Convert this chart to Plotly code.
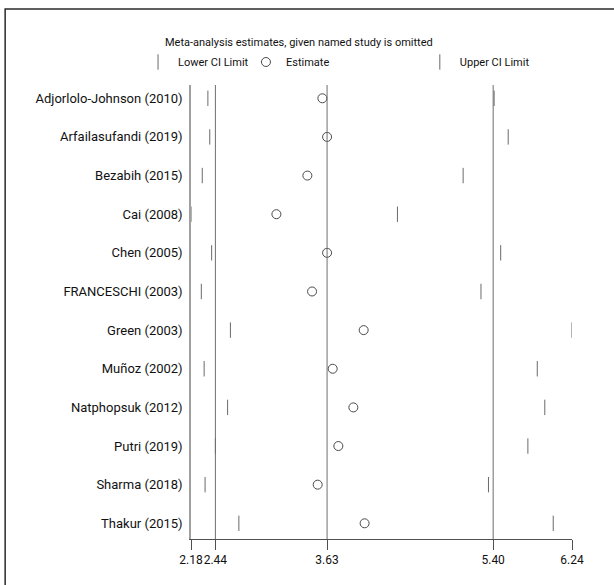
import plotly.graph_objects as go

studies = ["Adjorlolo-Johnson (2010)", "Arfailasufandi (2019)", "Bezabih (2015)", "Cai (2008)",
           "Chen (2005)", "FRANCESCHI (2003)", "Green (2003)", "Muñoz (2002)",
           "Natphopsuk (2012)", "Putri (2019)", "Sharma (2018)", "Thakur (2015)"]
lower = [2.36, 2.38, 2.30, 2.18, 2.40, 2.29, 2.60, 2.32, 2.57, 2.44, 2.33, 2.69]
estimate = [3.58, 3.63, 3.42, 3.09, 3.63, 3.47, 4.02, 3.69, 3.91, 3.75, 3.53, 4.03]
upper = [5.41, 5.56, 5.08, 4.38, 5.48, 5.27, 6.24, 5.87, 5.95, 5.77, 5.35, 6.04]
overall = [2.44, 3.63, 5.40]  # combined lower CI, estimate, upper CI
xticks = [2.18, 2.44, 3.63, 5.40, 6.24]
xticklabels = ["2.18", "2.44", "3.63", "5.40", "6.24"]

ypos = list(range(1, len(studies) + 1))
FONT = "Roboto, Liberation Sans, Arial, sans-serif"
FS = 13
FS_SMALL = 11

fig = go.Figure()
fig.add_trace(go.Scatter(x=lower, y=ypos, mode="markers", name="Lower CI Limit",
                         marker=dict(symbol="line-ns", size=11, line=dict(width=1, color="#6a6a6a")),
                         legend="legend", showlegend=True))
fig.add_trace(go.Scatter(x=estimate, y=ypos, mode="markers", name="Estimate",
                         marker=dict(symbol="circle-open", size=9, color="#4a4a4a", line=dict(width=1)),
                         legend="legend2", showlegend=True))
fig.add_trace(go.Scatter(x=upper, y=ypos, mode="markers", name="Upper CI Limit",
                         marker=dict(symbol="line-ns", size=11, line=dict(width=1, color="#6a6a6a")),
                         legend="legend3", showlegend=True))

for v in overall:
    fig.add_vline(x=v, line=dict(color="#6e6e6e", width=1))

W, H = 614, 585
L, R, T, B = 191, 572.3, 85, 539
pw, ph = R - L, B - T
def px(xp):
    return (xp - L) / pw
def py(yp):
    return (B - yp) / ph

fig.add_shape(type="rect", xref="paper", yref="paper", x0=px(5), x1=px(640), y0=py(9), y1=py(620),
              line=dict(color="#2a2a2a", width=1.5), layer="below")

fig.add_annotation(text="Meta-analysis estimates, given named study is omitted", xref="paper", yref="paper",
                   x=px(163), y=py(42), xanchor="left", yanchor="middle", showarrow=False,
                   font=dict(size=FS_SMALL, color="#111", family=FONT))

legend_common = dict(orientation="h", yanchor="middle", xanchor="left",
                     font=dict(size=FS_SMALL, color="#111", family=FONT),
                     bgcolor="rgba(0,0,0,0)", itemwidth=30, tracegroupgap=0, visible=True)
fig.update_layout(
    width=W, height=H, showlegend=True,
    margin=dict(l=L, r=W - R, t=T, b=H - B, autoexpand=False),
    paper_bgcolor="white", plot_bgcolor="white",
    font=dict(family=FONT, size=FS, color="#111"),
    xaxis=dict(range=[2.18, 6.24], tickvals=xticks, ticktext=xticklabels, tickangle=0,
               showgrid=False, zeroline=False, showline=True, linecolor="#505050", linewidth=1,
               ticks="outside", ticklen=10, tickcolor="#505050", tickfont=dict(size=12, family=FONT, color="#111")),
    yaxis=dict(range=[12.406, 0.656], tickvals=ypos, ticktext=studies, showgrid=False, zeroline=False,
               showline=True, linecolor="#a0a0a0", linewidth=1.5, ticks="", ticklabelstandoff=4,
               tickfont=dict(size=FS, family=FONT, color="#111")),
    legend=dict(x=px(157 - 19), y=py(62), **legend_common),
    legend2=dict(x=px(265 - 19), y=py(62), **legend_common),
    legend3=dict(x=px(439 - 19), y=py(62), **legend_common),
)

fig.write_html("out.html", config={"displayModeBar": False},
               post_script="document.body.style.margin='0';")
